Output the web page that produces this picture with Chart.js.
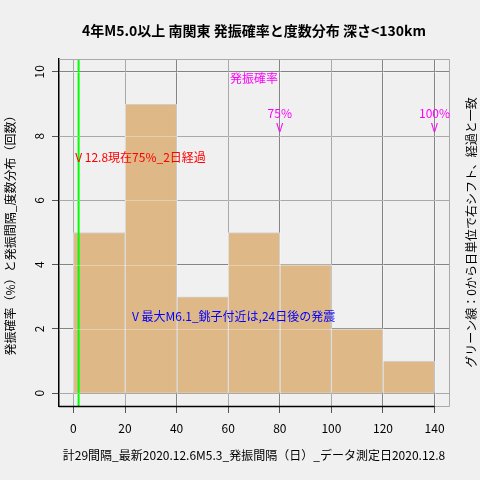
<!DOCTYPE html>
<html><head><meta charset="utf-8">
<script src="https://cdn.jsdelivr.net/npm/chart.js@4"></script>
<style>html,body{margin:0;padding:0;background:#f0f0f0;} canvas{display:block;}</style>
</head><body>
<canvas id="c" width="480" height="480" style="width:480px;height:480px"></canvas>
<script>
// ---- data ----
const binEdges = [0, 20, 40, 60, 80, 100, 120, 140];
const counts = [5, 9, 3, 5, 4, 2, 1];
const elapsedDays = [2];
const xTicks = [0, 20, 40, 60, 80, 100, 120, 140];
const yTicks = [0, 2, 4, 6, 8, 10];
const probLabels = ['75%', '100%'];
const probX = [80, 140];
const probY = [8.5, 8.5];
const probTitle = ['発振確率'];
const probTitleXY = [70, 9.8];
const noteTexts = ['V 12.8現在75%_2日経過', 'V 最大M6.1_銚子付近は,24日後の発震'];
const noteColors = ['#ff0000', '#0000ff'];
const noteX = [2, 24];
const noteY = [7.35, 2.4];
const titleText = '4年M5.0以上 南関東 発振確率と度数分布 深さ<130km';
const xTitle = '計29間隔_最新2020.12.6M5.3_発振間隔（日）_データ測定日2020.12.8';
const yTitle = '発振確率（%）と発振間隔_度数分布（回数）';
const rightTitle = 'グリーン線：0から日単位で右シフト、経過と一致';

const X_MIN = -5.6, X_MAX = 145.6, Y_MIN = -0.4, Y_MAX = 10.4;
const F = "'Noto Sans CJK JP', 'Noto Sans', sans-serif";
Chart.defaults.font.family = F;
Chart.defaults.color = '#000';

const barData = counts.map((c, i) => ({x: (binEdges[i] + binEdges[i + 1]) / 2, y: c}));
const greenData = [{x: elapsedDays[0], y: Y_MIN}, {x: elapsedDays[0], y: Y_MAX}];

const bgPlugin = {
  id: 'bg',
  beforeDraw(chart) {
    const ctx = chart.ctx;
    ctx.save();
    ctx.fillStyle = '#f0f0f0';
    ctx.fillRect(0, 0, chart.width, chart.height);
    ctx.restore();
  }
};

// light grid overlay drawn over the bars, plus the frame
const overlayPlugin = {
  id: 'overlay',
  afterDatasetsDraw(chart) {
    const {ctx, chartArea: a, scales: {x, y}} = chart;
    ctx.save();
    ctx.lineWidth = 1;
    ctx.strokeStyle = 'rgba(255,255,255,0.3)';
    ctx.beginPath();
    x.ticks.forEach(t => { const p = Math.round(x.getPixelForValue(t.value)) + 0.5; ctx.moveTo(p, a.top); ctx.lineTo(p, a.bottom); });
    y.ticks.forEach(t => { const p = Math.round(y.getPixelForValue(t.value)) + 0.5; ctx.moveTo(a.left, p); ctx.lineTo(a.right, p); });
    ctx.stroke();
    const T = Math.round(a.top) + 0.5, R = Math.round(a.right) + 0.5, B = Math.round(a.bottom);
    const xEnd = x.getPixelForValue(xTicks[xTicks.length - 1]);
    ctx.strokeStyle = '#a9a9a9';
    ctx.beginPath();
    ctx.moveTo(a.left, T); ctx.lineTo(R, T); ctx.lineTo(R, B + 0.5); ctx.lineTo(xEnd, B + 0.5);
    ctx.stroke();
    ctx.strokeStyle = '#000';
    ctx.lineWidth = 1.5;
    ctx.beginPath();
    ctx.moveTo(a.left, B + 0.5); ctx.lineTo(xEnd, B + 0.5);
    ctx.stroke();
    ctx.restore();
  }
};

const annoPlugin = {
  id: 'anno',
  afterDraw(chart) {
    const {ctx, scales: {x, y}} = chart;
    ctx.save();
    ctx.font = '12px ' + F;
    ctx.textBaseline = 'middle';
    ctx.fillStyle = '#ff00ff';
    ctx.textAlign = 'center';
    ctx.fillText(probTitle[0], x.getPixelForValue(probTitleXY[0]), y.getPixelForValue(probTitleXY[1]));
    probLabels.forEach((t, i) => {
      const px = x.getPixelForValue(probX[i]);
      const py = y.getPixelForValue(probY[i]);
      ctx.fillText(t, px, py - 7);
      ctx.fillText('V', px, py + 7);
    });
    ctx.textAlign = 'left';
    const vw = ctx.measureText('V').width;
    noteTexts.forEach((t, i) => {
      ctx.fillStyle = noteColors[i];
      ctx.fillText(t, x.getPixelForValue(noteX[i]) - vw / 2, y.getPixelForValue(noteY[i]));
    });
    // right side label
    ctx.fillStyle = '#000';
    ctx.textAlign = 'center';
    ctx.translate(471, (chart.chartArea.top + chart.chartArea.bottom) / 2);
    ctx.rotate(-Math.PI / 2);
    ctx.fillText(rightTitle, 0, 0);
    ctx.restore();
  }
};

new Chart(document.getElementById('c'), {
  data: {
    datasets: [
      {type: 'line', data: greenData, borderColor: '#00ff00', borderWidth: 2, pointRadius: 0, order: 0},
      {type: 'bar', data: barData, backgroundColor: '#deb887', borderColor: '#d3d3d3', borderWidth: 1,
       barPercentage: 1, categoryPercentage: 1, order: 1}
    ]
  },
  options: {
    responsive: false,
    animation: false,
    events: [],
    layout: {padding: {left: 0, top: 0, bottom: 0, right: 31}},
    plugins: {
      legend: {display: false},
      tooltip: {enabled: false},
      title: {display: true, fullSize: false, text: titleText, color: '#000', font: {size: 14, weight: 'bold'}, padding: {top: 22, bottom: 20.2}}
    },
    scales: {
      x: {
        type: 'linear', position: 'bottom', min: X_MIN, max: X_MAX, offset: false,
        afterBuildTicks(s) { s.ticks = xTicks.map(v => ({value: v})); },
        afterFit(s) { s.height = 74; },
        ticks: {color: '#000', font: {size: 12}, padding: 8, maxRotation: 0, minRotation: 0, autoSkip: false},
        grid: {offset: false, color: '#848484', tickColor: '#555', tickLength: 7, lineWidth: 1},
        border: {display: false},
        title: {display: true, text: xTitle, color: '#000', font: {size: 12}, padding: {top: 0, bottom: 17}}
      },
      y: {
        type: 'linear', position: 'left', min: Y_MIN, max: Y_MAX, beginAtZero: false,
        afterBuildTicks(s) { s.ticks = yTicks.map(v => ({value: v})); },
        afterFit(s) { s.width = 59; },
        ticks: {color: '#000', font: {size: 12}, padding: 6, minRotation: 90, maxRotation: 90, crossAlign: 'center', autoSkip: false},
        grid: {color: '#848484', tickColor: '#555', tickLength: 7, lineWidth: 1},
        border: {color: '#000', width: 1.5},
        title: {display: true, text: yTitle, color: '#000', font: {size: 12}, padding: {top: 3, bottom: 0}}
      }
    }
  },
  plugins: [bgPlugin, overlayPlugin, annoPlugin]
});
</script>
</body></html>
